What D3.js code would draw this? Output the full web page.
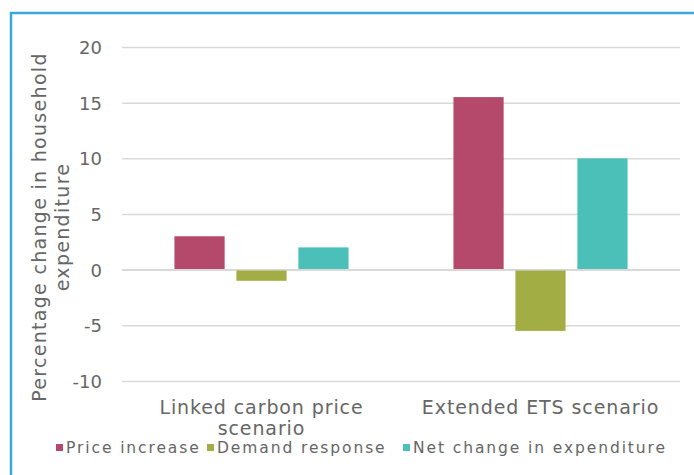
<!DOCTYPE html>
<html>
<head>
<meta charset="utf-8">
<script src="https://cdn.jsdelivr.net/npm/d3@7"></script>
<style>
  html, body { margin: 0; padding: 0; background: #fff; }
  svg text { font-family: "DejaVu Sans", sans-serif; fill: #666666; }
</style>
</head>
<body>
<svg id="chart" width="694" height="475"></svg>
<script>
const categories = ["Linked carbon price scenario", "Extended ETS scenario"];
const categoryLines = [["Linked carbon price", "scenario"], ["Extended ETS scenario"]];
const seriesNames = ["Price increase", "Demand response", "Net change in expenditure"];
const seriesColors = ["#b5496b", "#a2ae43", "#4ac0b9"];
const priceIncrease = [3.0, 15.5];
const demandResponse = [-1.0, -5.5];
const netChange = [2.0, 10.0];
const yTicks = [-10, -5, 0, 5, 10, 15, 20];
const yTitle = ["Percentage change in household", "expenditure"];

const seriesValues = [priceIncrease, demandResponse, netChange];

const svg = d3.select("#chart");
const plot = { left: 122, right: 680, top: 47, bottom: 381 };

// frame on the top and left edge
svg.append("path")
  .attr("d", `M11,475 V13 H694`)
  .attr("fill", "none")
  .attr("stroke", "#3aa8d8")
  .attr("stroke-width", 2.5);

const y = d3.scaleLinear().domain([-10, 20]).range([plot.bottom, plot.top]);
const x0 = d3.scaleBand().domain(categories).range([plot.left, plot.right]).paddingInner(0.376).paddingOuter(0.188);
const x1 = d3.scaleBand().domain(seriesNames).range([0, x0.bandwidth()]).paddingInner(0.19);

// gridlines and tick labels
const yAxis = d3.axisLeft(y).tickValues(yTicks).tickFormat(d => String(d))
  .tickSize(-(plot.right - plot.left)).tickPadding(20);
const gy = svg.append("g").attr("transform", `translate(${plot.left},0)`).call(yAxis);
gy.select(".domain").remove();
gy.selectAll(".tick line").attr("stroke", "#d9d9d9").attr("stroke-width", 1.5);
gy.selectAll(".tick text").style("font-size", "18px").attr("fill", "#666666").attr("dy", "0.36em");

// bars
const groups = svg.append("g").selectAll("g")
  .data(categories)
  .join("g")
  .attr("transform", d => `translate(${x0(d)},0)`);

groups.selectAll("rect")
  .data((d, i) => seriesNames.map((s, j) => ({ s, v: seriesValues[j][i], c: seriesColors[j] })))
  .join("rect")
  .attr("x", d => x1(d.s))
  .attr("width", x1.bandwidth())
  .attr("y", d => y(Math.max(0, d.v)))
  .attr("height", d => Math.abs(y(d.v) - y(0)))
  .attr("fill", d => d.c);

// zero line on top of the bars
svg.append("line")
  .attr("x1", plot.left).attr("x2", plot.right)
  .attr("y1", y(0)).attr("y2", y(0))
  .attr("stroke", "#d9d9d9").attr("stroke-width", 1.5);

// category labels
categories.forEach((c, i) => {
  const cx = x0(c) + x0.bandwidth() / 2;
  const t = svg.append("text")
    .attr("x", cx)
    .attr("y", 414)
    .attr("text-anchor", "middle")
    .style("font-size", "19px")
    .style("letter-spacing", "0.9px");
  categoryLines[i].forEach((line, k) => {
    t.append("tspan").attr("x", cx).attr("dy", k === 0 ? 0 : 21).text(line);
  });
});

// y-axis title
const yt = svg.append("text")
  .attr("transform", `translate(46,227) rotate(-90)`)
  .attr("text-anchor", "middle")
  .style("font-size", "19px")
  .style("letter-spacing", "1.3px");
yTitle.forEach((line, k) => {
  yt.append("tspan").attr("x", 0).attr("dy", k === 0 ? 0 : 23).text(line);
});

// legend
const legendX = [56, 207, 403];
const lg = svg.append("g").selectAll("g")
  .data(seriesNames)
  .join("g")
  .attr("transform", (d, i) => `translate(${legendX[i]},453)`);
lg.append("rect").attr("x", 0).attr("y", -9).attr("width", 7).attr("height", 7)
  .attr("fill", (d, i) => seriesColors[i]);
lg.append("text").attr("x", 10).attr("y", 0)
  .style("font-size", "15.5px").style("letter-spacing", "1.9px").text(d => d);
</script>
</body>
</html>
